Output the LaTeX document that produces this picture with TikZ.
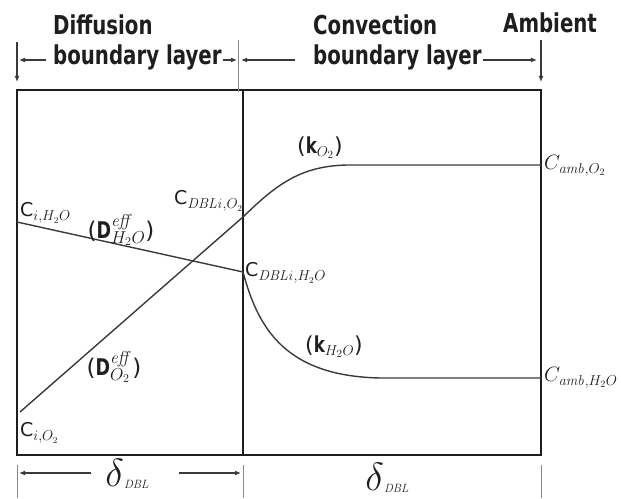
\documentclass[tikz,border=0pt]{standalone}
\usepackage[no-math]{fontspec}
\usepackage{graphicx}
\usetikzlibrary{arrows.meta,positioning}
\setmainfont{DejaVu Sans}
\newfontfamily\headfont{DejaVu Sans}[FakeStretch=0.76]
\definecolor{inkdark}{HTML}{1E1E1E}
\definecolor{inkgrey}{HTML}{3A3A3A}
\newcommand{\Cs}{{\fontsize{19}{19}\selectfont C}}
\newcommand{\dbl}{{\fontsize{20}{20}\selectfont\scalebox{1.9}{$\delta$}}\raisebox{-2pt}{\fontsize{12}{12}\selectfont$\mathit{DBL}$}}
\tikzset{
  >={Latex[length=6pt,width=5pt]},
  wall/.style={draw=inkdark,line width=2.6pt},
  profile/.style={draw=inkgrey,line width=1.4pt},
  dimline/.style={draw=inkgrey,line width=1.3pt},
  dimtick/.style={draw=inkgrey!60,line width=1pt},
  layer/.style={font=\headfont\bfseries\fontsize{26}{26}\selectfont,text=inkdark,
                inner sep=0pt,anchor=base west},
  conc/.style={font=\fontsize{19}{19}\selectfont,text=inkdark,inner sep=0pt,anchor=base west},
  coef/.style={font=\fontsize{23}{23}\selectfont,text=inkdark,inner sep=0pt},
  amb/.style={font=\fontsize{20}{20}\selectfont,text=inkdark,inner sep=0pt,anchor=base west},
  thick/.style={font=\fontsize{22}{22}\selectfont,text=inkdark,inner sep=0pt},
}

\begin{document}
\begin{tikzpicture}[x=1pt,y=1pt]
  \useasboundingbox (0,0) rectangle (621,498);

  % walls of the two layers
  \coordinate (boxSW) at (17,43);
  \coordinate (boxNE) at (541,408);
  \coordinate (midS) at (243,43);
  \coordinate (midN) at (243,408);
  \draw[wall] (boxSW) rectangle (boxNE);
  \draw[wall] (midS) -- (midN);

  % layer headings
  \node[layer] (diff) at (53,463) {Diffusion};
  \node[layer] (difflayer) at (53,433) {boundary layer};
  \node[layer] (conv) at (313,463) {Convection};
  \node[layer] (convlayer) at (313,433) {boundary layer};
  \node[layer] (ambient) at (503,465) {Ambient};

  \coordinate (wallL) at (17,438);
  \coordinate (wallM) at (243,438);
  \coordinate (wallR) at (541,438);
  \draw[dimline,->] ([xshift=-7pt]difflayer.base west |- wallL) -- ([xshift=2pt]wallL);
  \draw[dimline,->] (wallL) ++(0,18) -- ++(0,-40);
  \draw[dimline,->] ([xshift=1pt]difflayer.east |- wallM) -- ([xshift=-6pt]wallM);
  \draw[dimtick] ([xshift=-5pt]wallM) ++(0,20) -- ++(0,-52);
  \draw[dimline,->] ([xshift=52pt]wallM) -- ([xshift=-2pt]wallM);
  \draw[dimline,->] ([xshift=1pt]convlayer.east |- wallR) -- ([xshift=-4pt]wallR);
  \draw[dimline,->] (wallR) ++(0,20) -- ++(0,-42);

  % concentration profiles
  \coordinate (cih2o) at (17,276);
  \coordinate (dblh2o) at (243,226);
  \coordinate (cio2) at (20,86);
  \coordinate (dblo2) at (243,281);
  \coordinate (ambo2) at (541,333);
  \coordinate (ambh2o) at (541,120);
  \draw[profile] (cih2o) -- (dblh2o);
  \draw[profile] (cio2) -- (dblo2) .. controls (275,312) and (300,333) .. (350,333) -- (ambo2);
  \draw[profile] (dblh2o) .. controls (258,170) and (285,122) .. (380,120) -- (ambh2o);

  % labels
  \node[conc] (lcih2o) at (20,281) {\Cs$_{i,H_2O}$};
  \node[coef] (ldh2o) at (121,268) {({\headfont\bfseries D}$^{\mathit{eff}}_{H_2O}$)};
  \node[conc] (lcdblo2) at (174,293) {\Cs$_{\mathit{DBLi},O_2}$};
  \node[thick] (lko2) at (320,350) {({\headfont\bfseries k}$_{O_2}$)};
  \node[amb] (lcambo2) at (544,328) {$C_{\mathit{amb},O_2}$};
  \node[conc] (lcdblh2o) at (245,221) {\Cs$_{\mathit{DBLi},H_2O}$};
  \node[thick] (lkh2o) at (334,151) {({\headfont\bfseries k}$_{H_2O}$)};
  \node[amb] (lcambh2o) at (544,116) {$C_{\mathit{amb},H_2O}$};
  \node[coef] (ldo2) at (114,131) {({\headfont\bfseries D}$^{\mathit{eff}}_{O_2}$)};
  \node[conc] (lcio2) at (20,61) {\Cs$_{i,O_2}$};

  % layer thicknesses
  \coordinate (baseL) at (17,25);
  \coordinate (baseM) at (243,25);
  \coordinate (baseR) at (541,25);
  \foreach \c in {baseL,baseM,baseR}
    \draw[dimtick] (\c) ++(0,8) -- ++(0,-33);
  \node[inner sep=0pt,text=inkdark] (dl) at (127,24) {\dbl};
  \node[inner sep=0pt,text=inkdark] (dr) at (387,20) {\dbl};
  \draw[dimline,->] ([xshift=-14pt]dl.west |- baseL) -- ([xshift=2pt]baseL);
  \draw[dimline,->] ([xshift=30pt]dl.east |- baseM) -- ([xshift=-2pt]baseM);
\end{tikzpicture}
\end{document}
